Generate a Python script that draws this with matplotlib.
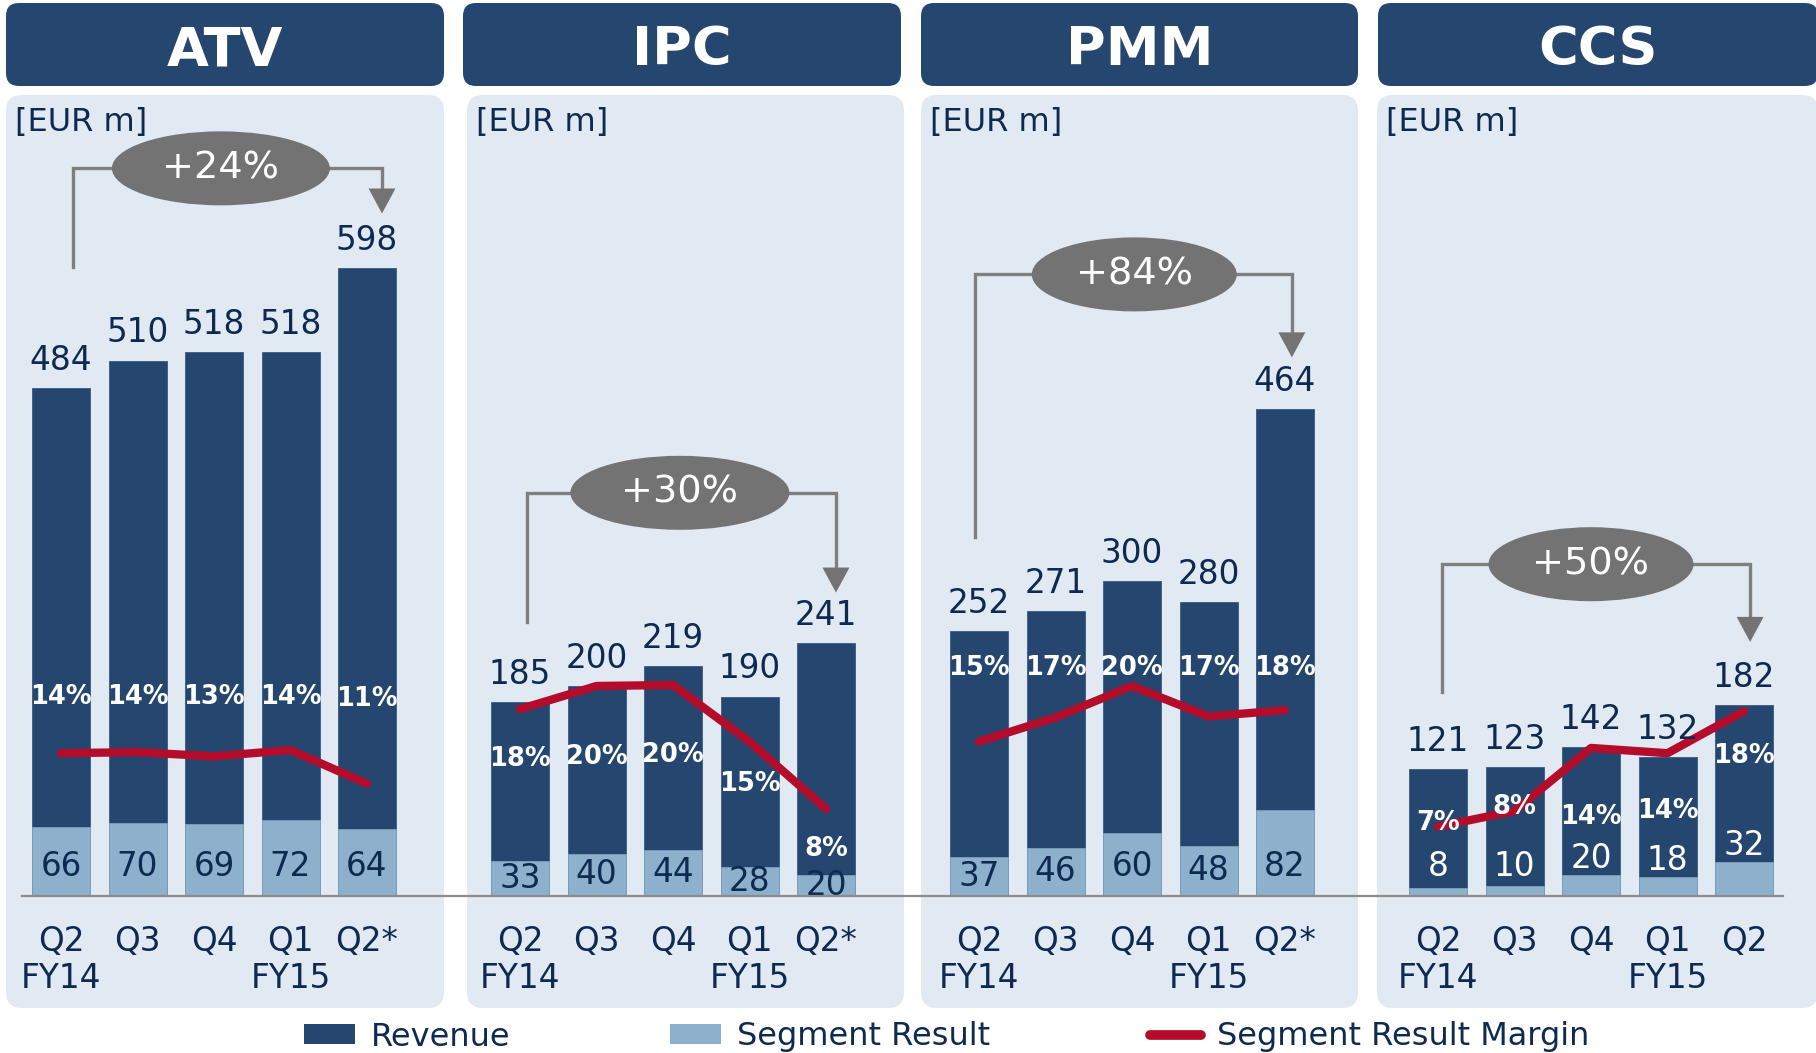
import matplotlib
matplotlib.use('Agg')
import matplotlib.pyplot as plt
from matplotlib.patches import FancyBboxPatch, Ellipse, Polygon, Patch
from matplotlib.lines import Line2D

# ---------------- data ----------------
segments = ['ATV', 'IPC', 'PMM', 'CCS']
quarters_std = ['Q2', 'Q3', 'Q4', 'Q1', 'Q2*']
quarters_ccs = ['Q2', 'Q3', 'Q4', 'Q1', 'Q2']
fiscal_years = ['FY14', '', '', 'FY15', '']

revenue_atv = [484, 510, 518, 518, 598]
result_atv = [66, 70, 69, 72, 64]
margin_atv = [13.6, 13.7, 13.3, 13.9, 10.7]

revenue_ipc = [185, 200, 219, 190, 241]
result_ipc = [33, 40, 44, 28, 20]
margin_ipc = [17.8, 20.0, 20.1, 14.7, 8.3]

revenue_pmm = [252, 271, 300, 280, 464]
result_pmm = [37, 46, 60, 48, 82]
margin_pmm = [14.7, 17.0, 20.0, 17.1, 17.7]

revenue_ccs = [121, 123, 142, 132, 182]
result_ccs = [8, 10, 20, 18, 32]
margin_ccs = [6.6, 8.1, 14.1, 13.6, 17.6]

growth_labels = ['+24%', '+30%', '+84%', '+50%']
unit_label = '[EUR m]'
legend_labels = ['Revenue', 'Segment Result', 'Segment Result Margin']

# ---------------- style / layout ----------------
W, H = 1816, 1053
DPI = 100
C_DARK = '#25466E'
C_LIGHT = '#8DB1CD'
C_PANEL = '#E1E9F2'
C_RED = '#B30D2B'
C_GREY = '#737373'
C_BRACKET = '#7F7F7F'
C_NAVY = '#0F2A50'
C_BASE = '#8C8C8C'

FS = 23.5  # main label size

PX_PER_UNIT = 1.05
PX_PER_SLOT = 76.5
BASE_Y = 896
Y_TOP = 760
AX_W = 438
X0_OFF = 55

axes_left = [6, 465, 924, 1383]
panel_x = [(6, 444), (467, 904), (921, 1358), (1377, 1818)]
header_x = [(6, 444), (463, 901), (921, 1358), (1378, 1818)]
pct_label_y = [[190, 190, 190, 190, 188],
               [130, 132, 134, 107, 45],
               [217, 217, 217, 217, 217],
               [70, 85, 75, 81, 133]]
# bracket layout: (left x, left bottom y, top y, ellipse cx, ellipse w(px), right x, arrow tip y)
brackets = [(0.157, 599, 693, 2.09, 218, 4.196, 650),
            (0.09, 261, 384, 2.09, 219, 4.13, 289),
            (-0.05, 342, 592, 2.03, 205, 4.09, 513),
            (0.05, 194, 316, 2.00, 205, 4.08, 242)]

revenues = [revenue_atv, revenue_ipc, revenue_pmm, revenue_ccs]
results = [result_atv, result_ipc, result_pmm, result_ccs]
margins = [margin_atv, margin_ipc, margin_pmm, margin_ccs]
quarters = [quarters_std, quarters_std, quarters_std, quarters_ccs]

fig = plt.figure(figsize=(W / DPI, H / DPI), dpi=DPI)
fig.patch.set_facecolor('white')

# background axes in pixel coordinates
bg = fig.add_axes([0, 0, 1, 1])
bg.set_xlim(0, W)
bg.set_ylim(H, 0)
bg.axis('off')
bg.set_zorder(-1)

for (x0, x1) in panel_x:
    bg.add_patch(FancyBboxPatch((x0, 95), x1 - x0, 1008 - 95,
                                boxstyle='round,pad=0,rounding_size=16',
                                facecolor=C_PANEL, edgecolor='none'))
for (x0, x1), name in zip(header_x, segments):
    bg.add_patch(FancyBboxPatch((x0, 3), x1 - x0, 86 - 3,
                                boxstyle='round,pad=0,rounding_size=13',
                                facecolor=C_DARK, edgecolor='none'))
    bg.text((x0 + x1) / 2, 50, name, ha='center', va='center',
            color='white', fontsize=39, fontweight='bold')
for (x0, x1) in panel_x:
    bg.text(x0 + 9, 123, unit_label, ha='left', va='center',
            color=C_NAVY, fontsize=23)

# baseline across all panels
fig.add_artist(Line2D([22, 1783], [BASE_Y, BASE_Y], transform=bg.transData,
                      color=C_BASE, lw=1.6, zorder=5))

xs = list(range(5))
bar_w = 58 / PX_PER_SLOT
xlim = (-X0_OFF / PX_PER_SLOT, (AX_W - X0_OFF) / PX_PER_SLOT)
height_px = Y_TOP * PX_PER_UNIT

for k in range(4):
    ax = fig.add_axes([axes_left[k] / W, (H - BASE_Y) / H, AX_W / W, height_px / H])
    ax.set_xlim(*xlim)
    ax.set_ylim(0, Y_TOP)
    ax.axis('off')
    ax.set_zorder(1)
    rev, res, mar = revenues[k], results[k], margins[k]

    ax.bar(xs, rev, width=bar_w, color=C_DARK, edgecolor='#3A5A80', linewidth=0.6)
    ax.bar(xs, res, width=bar_w, color=C_LIGHT, edgecolor='#7E9FBC', linewidth=0.6)

    ax2 = ax.twinx()
    ax2.set_ylim(0, Y_TOP / 10.0)
    ax2.axis('off')
    ax2.plot(xs, mar, color=C_RED, lw=6, solid_capstyle='round',
             solid_joinstyle='round', zorder=2)

    T = ax.transData
    for i in xs:
        ax2.annotate(f'{rev[i]}', xy=(i, rev[i]), xycoords=T,
                     xytext=(0, 13), textcoords='offset points',
                     ha='center', va='baseline', color=C_NAVY, fontsize=FS,
                     zorder=5, annotation_clip=False)
        if k == 3:
            ry = max(28, res[i] + 16)
            rc = 'white'
        else:
            ry = min(res[i] / 2, 28)
            rc = C_NAVY
        ax2.text(i, ry, f'{res[i]}', transform=T, ha='center', va='center',
                 color=rc, fontsize=FS, zorder=5, clip_on=False)
        ax2.text(i, pct_label_y[k][i], f'{mar[i]:.0f}%', transform=T,
                 ha='center', va='center', color='white', fontsize=18.5,
                 fontweight='bold', zorder=5, clip_on=False)
        ax2.text(i, -52, quarters[k][i], transform=T, ha='center',
                 va='baseline', color=C_NAVY, fontsize=FS, clip_on=False)
        if fiscal_years[i]:
            ax2.text(i, -88, fiscal_years[i], transform=T, ha='center',
                     va='baseline', color=C_NAVY, fontsize=FS, clip_on=False)

    # growth bracket
    lx, lb, ty, ecx, ew, rx, tip = brackets[k]
    head_h = 25 / PX_PER_UNIT
    head_w = 13.5 / PX_PER_SLOT
    ax.plot([lx, lx, ecx], [lb, ty, ty], color=C_BRACKET, lw=2.4,
            solid_joinstyle='miter', clip_on=False, zorder=3)
    ax.plot([ecx, rx, rx], [ty, ty, tip + head_h], color=C_BRACKET, lw=2.4,
            solid_joinstyle='miter', clip_on=False, zorder=3)
    ax.add_patch(Polygon([(rx - head_w, tip + head_h), (rx + head_w, tip + head_h),
                          (rx, tip)], closed=True, facecolor=C_GREY,
                         edgecolor='none', clip_on=False, zorder=3))
    ax.add_patch(Ellipse((ecx, ty), ew / PX_PER_SLOT, 74 / PX_PER_UNIT,
                         facecolor=C_GREY, edgecolor='none', clip_on=False, zorder=4))
    ax.text(ecx, ty, growth_labels[k], ha='center', va='center', color='white',
            fontsize=27.5, zorder=5, clip_on=False)

handles = [Patch(facecolor=C_DARK, edgecolor='none'),
           Patch(facecolor=C_LIGHT, edgecolor='none'),
           Line2D([], [], color=C_RED, lw=7, solid_capstyle='round')]
fig.legend(handles, legend_labels, loc='center', bbox_to_anchor=(946.5 / W, 1 - 1037 / H),
           ncol=3, frameon=False, fontsize=23, handlelength=1.6, handletextpad=0.5,
           columnspacing=5.0, labelcolor=C_NAVY, handleheight=0.6)

fig.savefig('out.png', dpi=DPI, facecolor='white')
